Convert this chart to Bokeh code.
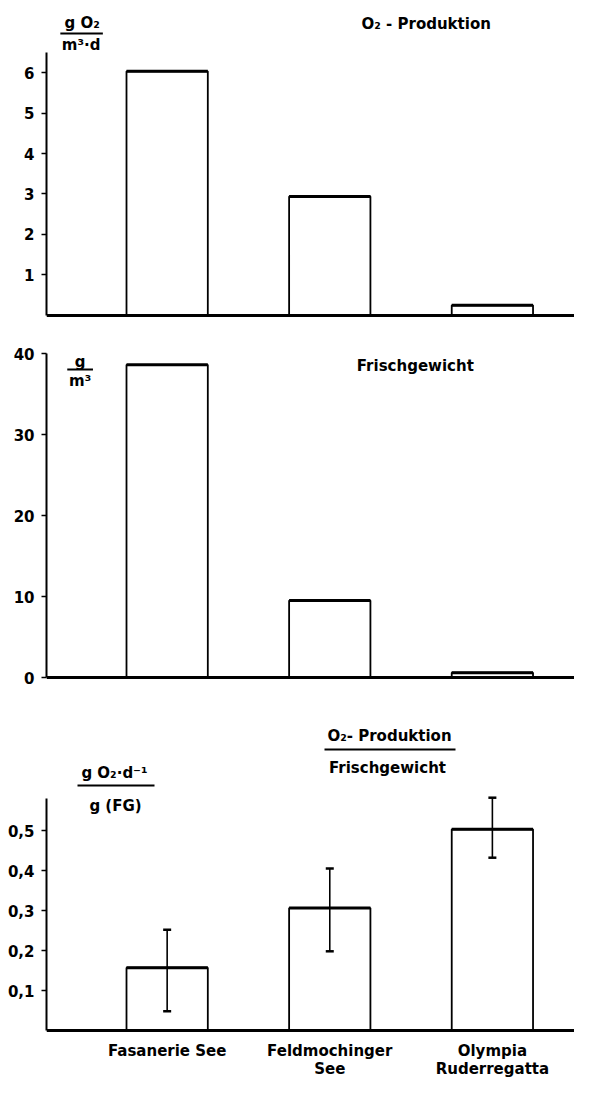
from bokeh.plotting import figure
from bokeh.models import Range1d, FixedTicker, Span, Whisker, ColumnDataSource, TeeHead
from bokeh.layouts import column
from bokeh.embed import file_html
from bokeh.resources import INLINE
from bokeh.core.properties import value

# ---------------- data ----------------
lakes = ["Fasanerie See", "Feldmochinger See", "Olympia Ruderregatta"]
lake_labels = ["Fasanerie See", "Feldmochinger\nSee", "Olympia\nRuderregatta"]
o2_production = [6.03, 2.94, 0.25]          # g O2 / (m3 d)
fresh_weight = [38.6, 9.5, 0.6]             # g / m3
ratio = [0.157, 0.306, 0.503]               # g O2 d-1 / g (FG)
ratio_upper = [0.252, 0.405, 0.582]
ratio_lower = [0.048, 0.198, 0.432]
o2_ticks = [1, 2, 3, 4, 5, 6]
fw_ticks = [0, 10, 20, 30, 40]
ratio_ticks = [0.1, 0.2, 0.3, 0.4, 0.5]
ratio_tick_labels = ["0,1", "0,2", "0,3", "0,4", "0,5"]

# ---------------- layout constants ----------------
FONT = "DejaVu Sans"
FS = "15px"
W = 574
X0, X1 = -0.742, 2.505
BAR_W = 0.5
xs = list(range(len(lakes)))


def base_fig(height, left, y0, y1):
    p = figure(width=W, height=height, x_range=Range1d(X0, X1), y_range=Range1d(y0, y1),
               output_backend="svg", toolbar_location=None, x_axis_location=None,
               min_border_left=left, min_border_right=0, min_border_top=0,
               min_border_bottom=0)
    p.xgrid.visible = False
    p.ygrid.visible = False
    p.outline_line_color = None
    ax = p.yaxis[0]
    ax.axis_line_width = 2
    ax.axis_line_color = "black"
    ax.major_tick_in = 0
    ax.major_tick_out = 5
    ax.major_tick_line_width = 1.5
    ax.minor_tick_line_color = None
    ax.major_label_text_font = FONT
    ax.major_label_text_font_style = "bold"
    ax.major_label_text_font_size = FS
    ax.major_label_text_color = "black"
    ax.major_label_standoff = 7
    p.add_layout(Span(location=0, dimension="width", line_color="black", line_width=3))
    return p


def bars(p, vals):
    src = ColumnDataSource(dict(x=xs, top=vals,
                                x0=[x - BAR_W / 2 for x in xs],
                                x1=[x + BAR_W / 2 for x in xs]))
    p.vbar(x="x", top="top", bottom=0, width=BAR_W, source=src,
           fill_color="white", line_color="black", line_width=1.8)
    p.segment(x0="x0", x1="x1", y0="top", y1="top", source=src,
              line_color="black", line_width=3)
    return src


def conv(frame_left, top, bottom, y0, y1):
    def fx(px):
        return X0 + (px - frame_left) / (W - frame_left) * (X1 - X0)

    def fy(py):
        return y1 - (py - top) / (bottom - top) * (y1 - y0)
    return fx, fy


def txt(p, fx, fy, px, py, s):
    p.text(x=[fx(px)], y=[fy(py)], text=[s], text_font=value(FONT),
           text_font_style="bold", text_font_size=FS, text_color="black",
           text_align="center", text_baseline="middle")


def rule(p, fx, fy, pxa, pxb, py):
    p.segment(x0=[fx(pxa)], x1=[fx(pxb)], y0=[fy(py)], y1=[fy(py)],
              line_color="black", line_width=2)


# ---------------- panel 1: O2-Produktion ----------------
y10, y11 = -0.173, 7.778
p1 = base_fig(322, 40, y10, y11)
p1.yaxis.bounds = (0, 6.5)
p1.yaxis.ticker = FixedTicker(ticks=o2_ticks)
bars(p1, o2_production)
fx, fy = conv(40, 0, 322, y10, y11)
txt(p1, fx, fy, 76, 22, "g O₂")
rule(p1, fx, fy, 54, 97, 33)
txt(p1, fx, fy, 75, 44, "m³·d")
txt(p1, fx, fy, 424, 23, "O₂ - Produktion")

# ---------------- panel 2: Frischgewicht ----------------
y20, y21 = -1.358, 43.83
p2 = base_fig(366, 40, y20, y21)
p2.yaxis.bounds = (0, 40)
p2.yaxis.ticker = FixedTicker(ticks=fw_ticks)
bars(p2, fresh_weight)
fx, fy = conv(40, 322, 688, y20, y21)
txt(p2, fx, fy, 74, 361, "g")
rule(p2, fx, fy, 61, 87, 369)
txt(p2, fx, fy, 74, 380, "m³")
txt(p2, fx, fy, 413, 365, "Frischgewicht")

# ---------------- panel 3: ratio ----------------
y30, y31 = -0.1225, 0.855
p3 = base_fig(391, 46, y30, y31)
p3.yaxis.bounds = (0, 0.58)
p3.yaxis.ticker = FixedTicker(ticks=ratio_ticks)
p3.yaxis.major_label_overrides = dict(zip(ratio_ticks, ratio_tick_labels))
src3 = bars(p3, ratio)
src3.data["upper"] = ratio_upper
src3.data["lower"] = ratio_lower
p3.add_layout(Whisker(source=src3, base="x", upper="upper", lower="lower",
                      level="overlay",
                      line_color="black", line_width=1.6,
                      upper_head=TeeHead(size=8, line_width=2.5, line_color="black"),
                      lower_head=TeeHead(size=8, line_width=2.5, line_color="black")))
fx, fy = conv(46, 688, 1079, y30, y31)
# category labels below the baseline
p3.text(x=xs, y=[fy(1041)] * len(xs), text=lake_labels, text_font=value(FONT),
        text_font_style="bold", text_font_size=FS, text_color="black",
        text_align="center", text_baseline="top", text_line_height=1.0)
txt(p3, fx, fy, 389, 735, "O₂- Produktion")
rule(p3, fx, fy, 324, 455, 749)
txt(p3, fx, fy, 387, 767, "Frischgewicht")
txt(p3, fx, fy, 114, 772, "g O₂·d⁻¹")
rule(p3, fx, fy, 77, 154, 785)
txt(p3, fx, fy, 115, 805, "g (FG)")

layout = column(p1, p2, p3, spacing=0)
open("out.html", "w").write(file_html(layout, INLINE))
